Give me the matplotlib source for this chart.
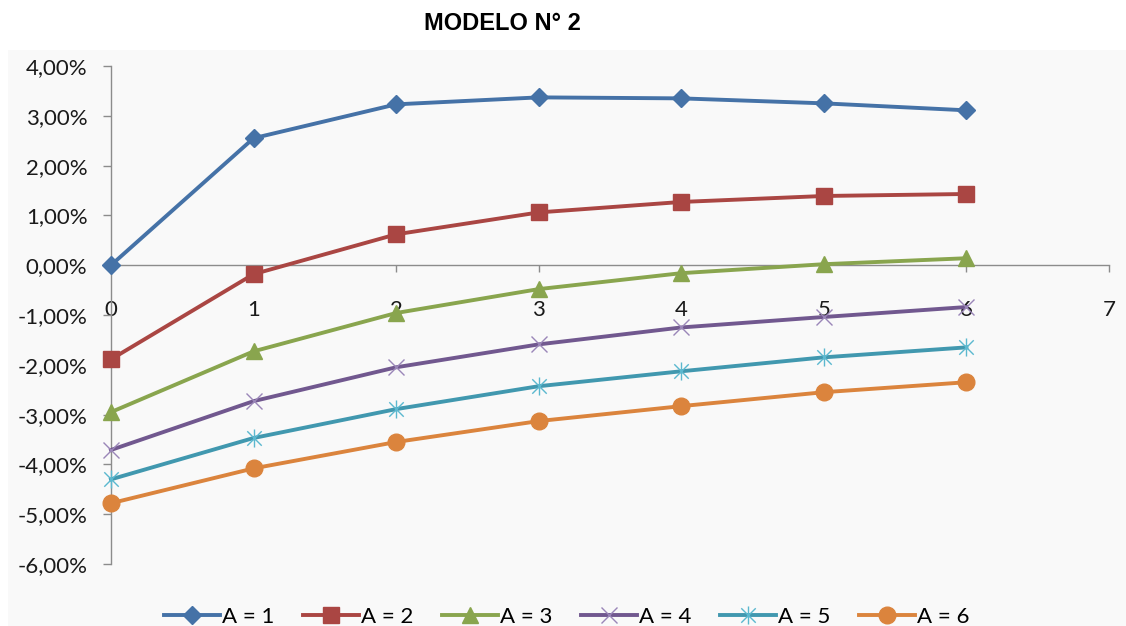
#!/usr/bin/env python
"""
modelo2.py
==========

Rendimiento por periodo para A = 1..6 (MODELO N° 2).
"""
import numpy as np
import matplotlib
matplotlib.use("Agg")
import matplotlib.pyplot as plt
from matplotlib.path import Path
from matplotlib.patches import Rectangle
from matplotlib.ticker import FuncFormatter

SIZE = np.array([1126, 626])

periodos = [0, 1, 2, 3, 4, 5, 6]
series_labels = ["A = 1", "A = 2", "A = 3", "A = 4", "A = 5", "A = 6"]

# valores en %
a1 = [0.00, 2.55, 3.23, 3.37, 3.35, 3.25, 3.11]
a2 = [-1.89, -0.18, 0.62, 1.06, 1.27, 1.39, 1.43]
a3 = [-2.95, -1.73, -0.96, -0.48, -0.16, 0.02, 0.14]
a4 = [-3.71, -2.73, -2.05, -1.59, -1.25, -1.04, -0.84]
a5 = [-4.30, -3.47, -2.89, -2.43, -2.13, -1.85, -1.65]
a6 = [-4.78, -4.08, -3.55, -3.13, -2.83, -2.55, -2.35]

yticks = [4, 3, 2, 1, 0, -1, -2, -3, -4, -5, -6]
xticks = [0, 1, 2, 3, 4, 5, 6, 7]

# asterisco tipo Excel: linea vertical + aspa
asterisk = Path(
    [(0, -1), (0, 1), (-0.8, -0.8), (0.8, 0.8), (-0.8, 0.8), (0.8, -0.8)],
    [Path.MOVETO, Path.LINETO, Path.MOVETO, Path.LINETO, Path.MOVETO, Path.LINETO],
)

styles = [
    dict(color="#4572A7", marker="D", ms=9),
    dict(color="#AA4643", marker="s", ms=11),
    dict(color="#89A54E", marker="^", ms=12),
    dict(color="#71588F", marker="x", ms=11, mew=1.0, mec="#9A86B8"),
    dict(color="#4198AF", marker=asterisk, ms=13, mew=1.0, mec="#5BB8CF"),
    dict(color="#DB843D", marker="o", ms=12),
]

plt.rcParams["font.family"] = ["Lato", "DejaVu Sans"]

fig = plt.figure(figsize=SIZE / 100., dpi=100)
fig.patch.set_facecolor("white")
fig.patches.append(Rectangle((8 / 1126, 0), 1, 1 - 50 / 626, transform=fig.transFigure,
                             facecolor="#f9f9f9", edgecolor="none", zorder=-10))

ax = fig.add_axes([111 / 1126, 1 - 564 / 626, (1109 - 111) / 1126, (564 - 66) / 626])
ax.set_facecolor("#f9f9f9")
ax.set_zorder(1)

for vals, lab, st in zip([a1, a2, a3, a4, a5, a6], series_labels, styles):
    ax.plot(periodos, vals, label=lab, lw=2.8, clip_on=False, zorder=3, **st)

ax.set_xlim(0, 7)
ax.set_ylim(-6, 4)
ax.set_yticks(yticks)
ax.set_xticks(xticks)
ax.yaxis.set_major_formatter(FuncFormatter(lambda v, p: ("%.2f%%" % v).replace(".", ",")))

for s in ["top", "right"]:
    ax.spines[s].set_visible(False)
ax.spines["bottom"].set_position(("data", 0))
for s in ["left", "bottom"]:
    ax.spines[s].set_color("#8c8c8c")
    ax.spines[s].set_linewidth(1.0)

ax.tick_params(axis="y", length=6, width=1.0, color="#8c8c8c", pad=11,
               labelsize=16, labelcolor="#1a1a1a")
ax.tick_params(axis="x", length=5, width=1.0, color="#8c8c8c", pad=20,
               labelsize=16, labelcolor="#1a1a1a")

fig.text(502 / 1126, 1 - 23 / 626, "MODELO N° 2", ha="center", va="center",
         fontsize=17, fontweight="bold", family="Liberation Sans")

fig.legend(loc="center", bbox_to_anchor=(567 / 1126, 1 - 617 / 626), ncol=6,
           frameon=False, fontsize=16, handlelength=2.5, columnspacing=1.3,
           handletextpad=0.1, borderaxespad=0, borderpad=0)

fig.savefig("out.png", dpi=100, facecolor=fig.get_facecolor())
